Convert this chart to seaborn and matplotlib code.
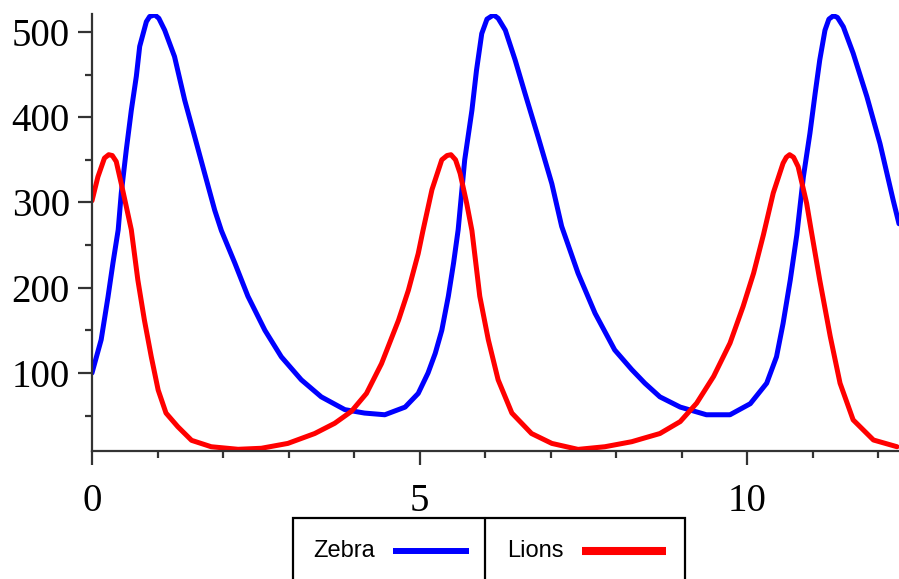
import numpy as np
import pandas as pd
import matplotlib
matplotlib.use("Agg")
import matplotlib.pyplot as plt
from matplotlib.patches import Rectangle
from matplotlib.lines import Line2D
from matplotlib.ticker import MultipleLocator
import seaborn as sns

# ---- data ----
zebra_t = [0.00, 0.14, 0.244, 0.32, 0.40, 0.447, 0.524, 0.60, 0.677, 0.728, 0.83, 0.88, 0.957,
           1.02, 1.11, 1.26, 1.415, 1.568, 1.72, 1.873, 1.975, 2.18, 2.38, 2.64, 2.89, 3.195,
           3.50, 3.86, 4.16, 4.47, 4.78, 4.98, 5.13, 5.24, 5.34, 5.44, 5.52, 5.59, 5.69,
           5.80, 5.87, 5.95, 6.03, 6.13, 6.20, 6.31, 6.46, 6.61, 6.81, 7.02, 7.17, 7.42, 7.68, 7.98,
           8.24, 8.44, 8.67, 8.98, 9.38, 9.74, 10.05, 10.30, 10.45, 10.55, 10.66, 10.76,
           10.86, 10.96, 11.04, 11.11, 11.19, 11.25, 11.32, 11.38, 11.47, 11.62, 11.83, 12.03,
           12.23, 12.32]
zebra_n = [100, 139, 189, 229, 268, 311, 362, 408, 448, 483, 512, 518, 520,
           516, 502, 471, 420, 377, 334, 291, 267, 229, 190, 150, 119, 92,
           72, 57, 53, 51, 60, 76, 100, 123, 150, 190, 229, 268, 350,
           408, 455, 498, 515, 520, 516, 502, 467, 428, 377, 322, 272, 217, 170, 127,
           104, 88, 72, 60, 51, 51, 64, 88, 119, 158, 209, 262,
           330, 381, 428, 467, 502, 515, 519, 517, 506, 475, 424, 369,
           303, 275]

lions_t = [0.00, 0.09, 0.19, 0.255, 0.31, 0.37, 0.447, 0.524, 0.60, 0.70, 0.80, 0.905, 1.01,
           1.13, 1.31, 1.52, 1.82, 2.23, 2.585, 2.99, 3.40, 3.705, 3.96, 4.19, 4.42,
           4.68, 4.83, 4.98, 5.05, 5.19, 5.34, 5.42, 5.48, 5.55, 5.62, 5.72, 5.80, 5.92, 6.05,
           6.20, 6.41, 6.71, 7.02, 7.42, 7.83, 8.24, 8.40, 8.67, 8.98, 9.23, 9.49,
           9.74, 9.94, 10.10, 10.25, 10.40, 10.55, 10.60, 10.65, 10.71, 10.78, 10.91, 10.98,
           11.11, 11.27, 11.42, 11.62, 11.93, 12.29]
lions_n = [302, 330, 352, 356, 355, 348, 322, 295, 268, 209, 162, 119, 80,
           53, 37, 21, 13.5, 10.5, 11.7, 17.4, 29, 41, 55, 76, 111,
           162, 197, 240, 266, 315, 350, 355, 356, 350, 334, 299, 267, 190, 139,
           92, 53, 29, 17.4, 10.4, 13.5, 19.4, 23, 29, 43, 64.5, 96,
           135, 178, 217, 262, 311, 346, 353, 356, 353, 342, 299, 267,
           209, 143, 88, 45, 21.4, 13.5]

series_names = ["Zebra", "Lions"]
series_colors = ["#0000FF", "#FF0000"]
x_major_ticks = [0, 5, 10]
y_major_ticks = [100, 200, 300, 400, 500]

df = pd.concat([
    pd.DataFrame({"t": zebra_t, "n": zebra_n, "species": "Zebra"}),
    pd.DataFrame({"t": lions_t, "n": lions_n, "species": "Lions"}),
], ignore_index=True)

sns.set_style("ticks")
W, H = 899, 579
fig = plt.figure(figsize=(W / 100, H / 100), dpi=100)
ax = fig.add_axes([92 / W, 1 - 451 / H, (899 - 92) / W, (451 - 14) / H])

sns.lineplot(data=df, x="t", y="n", hue="species", hue_order=series_names,
             palette=dict(zip(series_names, series_colors)), estimator=None,
             sort=True, linewidth=3.6, legend=False, ax=ax)

ax.set_xlim(0, 12.32)
ax.set_ylim(8.5, 521)
ax.set_xticks(x_major_ticks)
ax.set_yticks(y_major_ticks)
ax.xaxis.set_minor_locator(MultipleLocator(1))
ax.yaxis.set_minor_locator(MultipleLocator(50))
ax.set_xlabel("")
ax.set_ylabel("")

for s in ["top", "right"]:
    ax.spines[s].set_visible(False)
for s in ["left", "bottom"]:
    ax.spines[s].set_color("#333333")
    ax.spines[s].set_linewidth(1.6)

ax.tick_params(which="major", length=10, width=1.6, color="#333333")
ax.tick_params(which="minor", length=5, width=1.6, color="#333333")
ax.tick_params(axis="x", which="major", pad=13)
ax.tick_params(axis="y", which="major", pad=6)
for lab in ax.get_xticklabels() + ax.get_yticklabels():
    lab.set_fontfamily("Liberation Serif")
    lab.set_fontsize(28)
    lab.set_color("black")

# ---- legend box drawn at the bottom ----
def fx(x):
    return x / W

def fy(y):
    return 1 - y / H

fig.add_artist(Rectangle((fx(293), fy(600)), fx(685) - fx(293), fy(518) - fy(600),
                         transform=fig.transFigure, facecolor="none",
                         edgecolor="black", linewidth=1.6))
fig.add_artist(Line2D([fx(485), fx(485)], [fy(518), fy(600)], transform=fig.transFigure,
                      color="black", linewidth=1.6))
fig.text(fx(313), fy(557), series_names[0], fontfamily="Liberation Sans", fontsize=17,
         va="baseline", ha="left", color="black")
fig.add_artist(Line2D([fx(393), fx(469)], [fy(551), fy(551)], transform=fig.transFigure,
                      color=series_colors[0], linewidth=4.3, solid_capstyle="butt"))
fig.text(fx(507), fy(557), series_names[1], fontfamily="Liberation Sans", fontsize=17,
         va="baseline", ha="left", color="black")
fig.add_artist(Line2D([fx(582), fx(666)], [fy(551), fy(551)], transform=fig.transFigure,
                      color=series_colors[1], linewidth=5.8, solid_capstyle="butt"))

fig.savefig("out.png", dpi=100)
